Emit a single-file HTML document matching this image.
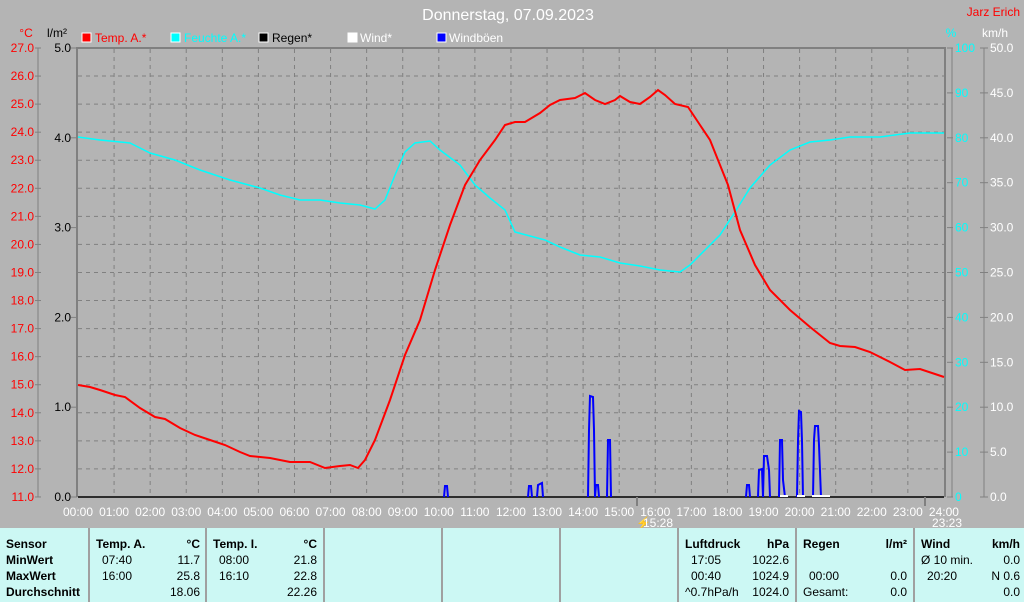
<!DOCTYPE html><html><head><style>
body{margin:0;width:1024px;height:602px;background:#b4b4b4;font-family:"Liberation Sans",sans-serif;overflow:hidden;position:relative}
svg{position:absolute;left:0;top:0}
.tb{position:absolute;left:0;top:528px;width:1024px;height:74px;background:#ccf8f4}
.c{position:absolute;top:0;height:74px;border-left:2px solid #a0a0a0;font-size:12px;color:#000}
.r{position:absolute;white-space:nowrap}
b{font-weight:bold}
</style></head><body>
<svg width="1024" height="528" font-family="Liberation Sans, sans-serif">
<text x="508" y="20" fill="#fff" font-size="16" text-anchor="middle">Donnerstag, 07.09.2023</text>
<text x="1020" y="16" fill="#f00" font-size="12" text-anchor="end">Jarz Erich</text>
<text x="26" y="37" fill="#f00" font-size="12" text-anchor="middle">°C</text>
<text x="57" y="37" fill="#000" font-size="12" text-anchor="middle">l/m²</text>
<text x="951" y="37" fill="#0ff" font-size="12" text-anchor="middle">%</text>
<text x="995" y="37" fill="#fff" font-size="12" text-anchor="middle">km/h</text>
<rect x="82" y="33" width="9" height="9" fill="#f00" stroke="#fff"/><text x="95" y="42" fill="#f00" font-size="12">Temp. A.*</text>
<rect x="171" y="33" width="9" height="9" fill="#0ff" stroke="#fff"/><text x="184" y="42" fill="#0ff" font-size="12">Feuchte A.*</text>
<rect x="259" y="33" width="9" height="9" fill="#000" stroke="#fff"/><text x="272" y="42" fill="#000" font-size="12">Regen*</text>
<rect x="348" y="33" width="9" height="9" fill="#fff" stroke="#fff"/><text x="360" y="42" fill="#fff" font-size="12">Wind*</text>
<rect x="437" y="33" width="9" height="9" fill="#00f" stroke="#fff"/><text x="449" y="42" fill="#fff" font-size="12">Windböen</text>
<g stroke="#808080" stroke-dasharray="4,4" stroke-width="1" id="grid"></g>
<g id="axes"></g>
<g fill="none" stroke="#00f" stroke-width="2">
<polyline points="444,497 445,486 447,486 448,497"/>
<polyline points="528,497 529,486 531,486 532,497"/>
<polyline points="537,497 538,485 542,483 543,497"/>
<polyline points="588,497 589,430 590,396 593,397 594,430 595,497 596,485 598,485 599,497"/>
<polyline points="607,497 608,440 610,440 611,497"/>
<polyline points="746,497 747,485 749,485 750,497"/>
<polyline points="758,497 759,470 762,469 763,497 764,456 767,456 769,470 770,497"/>
<polyline points="779,497 780,440 782,440 783,480 785,497"/>
<polyline points="797,497 798,441 799,411 801,412 802,441 803,497"/>
<polyline points="813,497 814,440 815,426 818,426 819,445 821,497"/>
</g>
<g stroke="#fff" stroke-width="2"><line x1="780" y1="496" x2="788" y2="496"/><line x1="797" y1="496" x2="805" y2="496"/><line x1="812" y1="496" x2="830" y2="496"/></g>
<polyline fill="none" stroke="#0ff" stroke-width="1.5" points="78,137 100,140 130,143 150,153 175,160 200,170 230,180 260,188 280,195 300,200 320,200 340,203 360,205 375,209 385,200 395,175 405,152 415,143 430,141 440,150 460,165 475,185 490,198 505,210 515,232 530,236 545,240 560,247 580,255 600,257 620,263 640,266 660,270 680,272 690,265 705,250 720,235 735,212 750,188 770,165 790,150 810,142 830,140 850,137 880,137 910,133 944,133"/>
<polyline fill="none" stroke="#f00" stroke-width="2" points="78,385 90,387 100,390 115,395 125,397 140,408 155,417 165,419 180,428 195,435 210,440 225,445 240,452 250,456 270,458 290,462 310,462 325,468 340,466 350,465 358,468 365,460 375,440 390,400 405,355 420,320 435,270 450,225 465,185 480,160 495,140 505,125 515,122 525,122 540,113 550,105 560,100 575,98 585,93 595,100 605,104 615,100 620,96 630,102 640,104 650,97 658,90 665,95 675,104 688,107 700,125 710,140 718,160 728,185 740,230 755,265 770,290 790,310 810,327 830,343 840,346 855,347 870,352 890,362 905,370 920,369 935,374 944,377"/>
<text x="636" y="527" fill="#ff0" font-size="12">⚡</text>
<text x="643" y="527" fill="#fff" font-size="12">15:28</text>
<text x="932" y="527" fill="#fff" font-size="12">23:23</text>
</svg>
<script>
var g=document.getElementById('grid'),a=document.getElementById('axes'),s='',t='';
for(var h=1;h<24;h++){var x=78+h*36.08;s+='<line x1="'+x+'" y1="49" x2="'+x+'" y2="497"/>';}
for(var k=1;k<16;k++){var y=48+k*28.06;s+='<line x1="78" y1="'+y+'" x2="944" y2="'+y+'"/>';}
g.innerHTML=s;
t+='<line x1="76" y1="48" x2="946" y2="48" stroke="#808080" stroke-width="2"/><line x1="77" y1="48" x2="77" y2="497" stroke="#808080" stroke-width="2"/><line x1="945" y1="48" x2="945" y2="497" stroke="#808080" stroke-width="2"/><line x1="78" y1="497" x2="944" y2="497" stroke="#000" stroke-width="1.5"/>';
t+='<line x1="38" y1="48" x2="38" y2="497" stroke="#808080"/><line x1="952" y1="48" x2="952" y2="497" stroke="#808080"/><line x1="984" y1="48" x2="984" y2="497" stroke="#808080"/>';
for(var k=0;k<=16;k++){var y=48+k*28.06;t+='<line x1="35" y1="'+y+'" x2="41" y2="'+y+'" stroke="#808080"/><text x="34" y="'+(y+4)+'" fill="#f00" font-size="12" text-anchor="end">'+(27-k).toFixed(1)+'</text>';}
for(var k=0;k<=5;k++){var y=48+k*89.8;t+='<line x1="71" y1="'+y+'" x2="77" y2="'+y+'" stroke="#808080"/><text x="71" y="'+(y+4)+'" fill="#000" font-size="12" text-anchor="end">'+(5-k).toFixed(1)+'</text>';}
for(var k=0;k<=10;k++){var y=48+k*44.9;t+='<line x1="947" y1="'+y+'" x2="953" y2="'+y+'" stroke="#808080"/><text x="955" y="'+(y+4)+'" fill="#0ff" font-size="12">'+(100-k*10)+'</text>';t+='<line x1="980" y1="'+y+'" x2="988" y2="'+y+'" stroke="#808080"/><text x="990" y="'+(y+4)+'" fill="#fff" font-size="12">'+(50-k*5).toFixed(1)+'</text>';}
for(var h=0;h<=24;h++){var x=78+h*36.08;t+='<text x="'+x+'" y="516" fill="#fff" font-size="12" text-anchor="middle">'+(h<10?'0':'')+h+':00</text>';}
t+='<line x1="637" y1="497" x2="637" y2="506" stroke="#808080" stroke-width="2"/><line x1="925" y1="497" x2="925" y2="506" stroke="#808080" stroke-width="2"/>';
a.innerHTML=t;
</script>
<div class="tb">
<div class="c" style="left:-2px;width:90px;border:none"><b class="r" style="left:8px;top:9px">Sensor</b><b class="r" style="left:8px;top:25px">MinWert</b><b class="r" style="left:8px;top:41px">MaxWert</b><b class="r" style="left:8px;top:57px">Durchschnitt</b></div>
<div class="c" style="left:88px;width:116px"><b class="r" style="left:6px;top:9px">Temp. A.</b><b class="r" style="right:6px;top:9px">°C</b><span class="r" style="left:12px;top:25px">07:40</span><span class="r" style="right:6px;top:25px">11.7</span><span class="r" style="left:12px;top:41px">16:00</span><span class="r" style="right:6px;top:41px">25.8</span><span class="r" style="right:6px;top:57px">18.06</span></div>
<div class="c" style="left:205px;width:116px"><b class="r" style="left:6px;top:9px">Temp. I.</b><b class="r" style="right:6px;top:9px">°C</b><span class="r" style="left:12px;top:25px">08:00</span><span class="r" style="right:6px;top:25px">21.8</span><span class="r" style="left:12px;top:41px">16:10</span><span class="r" style="right:6px;top:41px">22.8</span><span class="r" style="right:6px;top:57px">22.26</span></div>
<div class="c" style="left:323px;width:116px"></div>
<div class="c" style="left:441px;width:116px"></div>
<div class="c" style="left:559px;width:116px"></div>
<div class="c" style="left:677px;width:116px"><b class="r" style="left:6px;top:9px">Luftdruck</b><b class="r" style="right:6px;top:9px">hPa</b><span class="r" style="left:12px;top:25px">17:05</span><span class="r" style="right:6px;top:25px">1022.6</span><span class="r" style="left:12px;top:41px">00:40</span><span class="r" style="right:6px;top:41px">1024.9</span><span class="r" style="left:6px;top:57px">^0.7hPa/h</span><span class="r" style="right:6px;top:57px">1024.0</span></div>
<div class="c" style="left:795px;width:116px"><b class="r" style="left:6px;top:9px">Regen</b><b class="r" style="right:6px;top:9px">l/m²</b><span class="r" style="left:12px;top:41px">00:00</span><span class="r" style="right:6px;top:41px">0.0</span><span class="r" style="left:6px;top:57px">Gesamt:</span><span class="r" style="right:6px;top:57px">0.0</span></div>
<div class="c" style="left:913px;width:109px"><b class="r" style="left:6px;top:9px">Wind</b><b class="r" style="right:4px;top:9px">km/h</b><span class="r" style="left:6px;top:25px">Ø 10 min.</span><span class="r" style="right:4px;top:25px">0.0</span><span class="r" style="left:12px;top:41px">20:20</span><span class="r" style="right:4px;top:41px">N 0.6</span><span class="r" style="right:4px;top:57px">0.0</span></div>
</div>
</body></html>
